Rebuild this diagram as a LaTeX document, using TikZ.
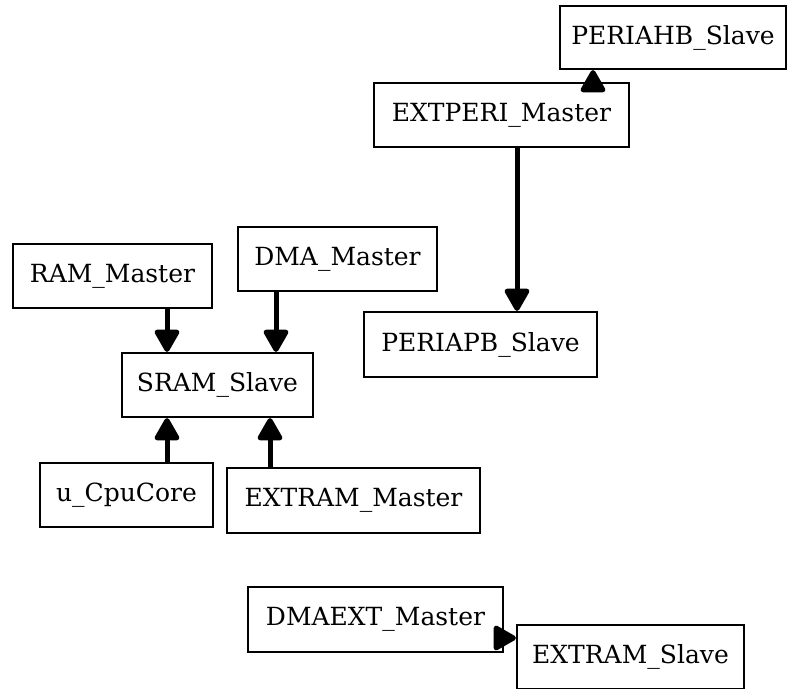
\documentclass[tikz,border=0pt]{standalone}
\usepackage{fontspec}
\setmainfont{DejaVu Serif}
\usetikzlibrary{arrows.meta}
\begin{document}
\begin{tikzpicture}[x=1pt,y=-1pt,
  blk/.style={draw=black, line width=2.2pt, fill=white, inner sep=0pt,
    minimum width=#1, font=\fontsize{25}{29}\selectfont},
  blk/.default=200pt,
  link/.style={line width=5pt, line join=round,
    -{Triangle[length=25pt,width=27pt,round]}}
]
\useasboundingbox (0,0) rectangle (787,688);

% bus endpoints
\node[blk=226pt, minimum height=63pt] (periahb) at (673,37.5) {PERIAHB\_Slave};
\node[blk=255pt, minimum height=64pt] (extperi) at (501.5,115) {EXTPERI\_Master};
\node[blk=233pt, minimum height=65pt] (periapb) at (480.5,344.5) {PERIAPB\_Slave};

\node[blk=199pt, minimum height=64pt] (ram) at (112.5,276) {RAM\_Master};
\node[blk=199pt, minimum height=64pt] (dma) at (337.5,259) {DMA\_Master};
\node[blk=191pt, minimum height=64pt] (sram) at (217.5,385) {SRAM\_Slave};
\node[blk=173pt, minimum height=64pt] (cpu) at (126.5,495) {u\_CpuCore};
\node[blk=253pt, minimum height=65pt] (extramm) at (353.5,500.5) {EXTRAM\_Master};

\node[blk=255pt, minimum height=65pt] (dmaext) at (375.5,619.5) {DMAEXT\_Master};
\node[blk=227pt, minimum height=64pt] (extrams) at (630.5,657) {EXTRAM\_Slave};

% connections
\draw[link] ([xshift=91.5pt]extperi.north) -- ([xshift=91.5pt]extperi.north |- periahb.south);
\draw[link] ([xshift=15.5pt]extperi.south) -- ([xshift=15.5pt]extperi.south |- periapb.north);
\draw[link] ([xshift=54.5pt]ram.south) -- ([xshift=54.5pt]ram.south |- sram.north);
\draw[link] ([xshift=-61.5pt]dma.south) -- ([xshift=-61.5pt]dma.south |- sram.north);
\draw[link] ([xshift=40.5pt]cpu.north) -- ([xshift=40.5pt]cpu.north |- sram.south);
\draw[link] ([xshift=-83.5pt]extramm.north) -- ([xshift=-83.5pt]extramm.north |- sram.south);
\draw[link] ([yshift=-18.5pt]dmaext.east) -- ([yshift=-18.5pt]dmaext.east -| extrams.west);
\end{tikzpicture}
\end{document}
